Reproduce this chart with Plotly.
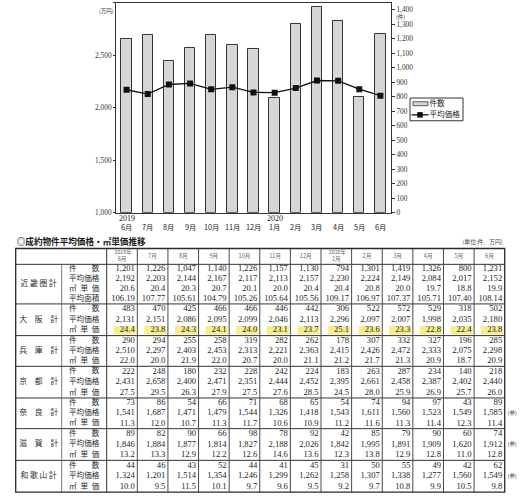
import plotly.graph_objects as go

# ---------------- data ----------------
chart_months = ["6月", "7月", "8月", "9月", "10月", "11月", "12月", "1月", "2月", "3月", "4月", "5月", "6月"]
chart_years = {0: "2019", 7: "2020"}
chart_counts = [1201, 1226, 1047, 1140, 1226, 1157, 1130, 794, 1301, 1419, 1326, 800, 1231]
chart_avg_price = [2173, 2132, 2223, 2233, 2177, 2198, 2148, 2145, 2189, 2261, 2258, 2179, 2116]
legend_names = ["件数", "平均価格"]

table_title = "◎成約物件平均価格・㎡単価推移"
table_unit = "(単位:件、万円)"
header_months = ["6月", "7月", "8月", "9月", "10月", "11月", "12月", "1月", "2月", "3月", "4月", "5月", "6月"]
header_years = {0: "2019年", 7: "2020年"}

row_label_count = "件\u3000\u3000数"
row_label_price = "平均価格"
row_label_unit = "㎡\u2002単\u2002価"
row_label_area = "平均面積"

kinki_name = "近 畿 圏 計"
kinki_count = ["1,201", "1,226", "1,047", "1,140", "1,226", "1,157", "1,130", "794", "1,301", "1,419", "1,326", "800", "1,231"]
kinki_price = ["2,192", "2,203", "2,144", "2,167", "2,117", "2,113", "2,157", "2,230", "2,224", "2,149", "2,084", "2,017", "2,152"]
kinki_unit = ["20.6", "20.4", "20.3", "20.7", "20.1", "20.0", "20.4", "20.4", "20.8", "20.0", "19.7", "18.8", "19.9"]
kinki_area = ["106.19", "107.77", "105.61", "104.79", "105.26", "105.64", "105.56", "109.17", "106.97", "107.37", "105.71", "107.40", "108.14"]

osaka_name = "大\u3000阪\u3000計"
osaka_count = ["483", "470", "425", "466", "466", "446", "442", "306", "522", "572", "529", "318", "502"]
osaka_price = ["2,131", "2,151", "2,086", "2,095", "2,099", "2,046", "2,113", "2,296", "2,097", "2,007", "1,998", "2,035", "2,180"]
osaka_unit = ["24.4", "23.8", "24.3", "24.1", "24.0", "23.1", "23.7", "25.1", "23.6", "23.3", "22.8", "22.4", "23.8"]

hyogo_name = "兵\u3000庫\u3000計"
hyogo_count = ["290", "294", "255", "258", "319", "282", "262", "178", "307", "332", "327", "196", "285"]
hyogo_price = ["2,510", "2,297", "2,403", "2,453", "2,313", "2,221", "2,363", "2,415", "2,426", "2,472", "2,333", "2,075", "2,298"]
hyogo_unit = ["22.0", "20.0", "21.9", "22.0", "20.7", "20.0", "21.1", "21.2", "21.7", "21.3", "20.9", "18.7", "20.9"]

kyoto_name = "京\u3000都\u3000計"
kyoto_count = ["222", "248", "180", "232", "228", "242", "224", "183", "263", "287", "234", "140", "218"]
kyoto_price = ["2,431", "2,658", "2,400", "2,471", "2,351", "2,444", "2,452", "2,395", "2,661", "2,458", "2,387", "2,402", "2,440"]
kyoto_unit = ["27.5", "29.5", "26.3", "27.9", "27.5", "27.6", "28.5", "24.5", "28.0", "25.9", "26.9", "25.7", "26.0"]

nara_name = "奈\u3000良\u3000計"
nara_count = ["73", "86", "54", "66", "71", "68", "65", "54", "74", "94", "97", "43", "89"]
nara_price = ["1,541", "1,687", "1,471", "1,479", "1,544", "1,326", "1,418", "1,543", "1,611", "1,560", "1,523", "1,549", "1,585"]
nara_unit = ["11.3", "12.0", "10.7", "11.3", "11.7", "10.6", "10.9", "11.2", "11.6", "11.3", "11.4", "12.3", "11.4"]

shiga_name = "滋\u3000賀\u3000計"
shiga_count = ["89", "82", "90", "66", "98", "78", "92", "42", "85", "79", "90", "60", "74"]
shiga_price = ["1,846", "1,884", "1,877", "1,814", "1,827", "2,188", "2,026", "1,842", "1,995", "1,891", "1,909", "1,620", "1,912"]
shiga_unit = ["13.2", "13.3", "12.9", "12.2", "12.6", "14.6", "13.6", "12.3", "13.8", "12.9", "12.8", "11.0", "12.8"]

wakayama_name = "和 歌 山 計"
wakayama_count = ["44", "46", "43", "52", "44", "41", "45", "31", "50", "55", "49", "42", "62"]
wakayama_price = ["1,324", "1,201", "1,514", "1,354", "1,246", "1,299", "1,262", "1,258", "1,307", "1,338", "1,277", "1,560", "1,549"]
wakayama_unit = ["10.0", "9.5", "11.5", "10.1", "9.7", "9.6", "9.5", "9.2", "9.7", "10.8", "9.9", "10.5", "9.8"]

ref_mark = "(参)"
ref_regions = {"nara", "shiga", "wakayama"}

# ---------------- styles / layout constants ----------------
W, H = 524, 500
SERIF = "Liberation Serif, Noto Sans CJK JP, serif"
CJK = "Noto Sans CJK JP, sans-serif"
LINEC = "#333333"
BAR_FILL = "#d6d6d6"
BAR_LINE = "#333333"
LINE_C = "#111111"

fig = go.Figure()

# ---------------- chart ----------------
xs = list(range(len(chart_months)))
fig.add_trace(go.Bar(
    x=xs, y=chart_counts, name=legend_names[0], xaxis="x", yaxis="y",
    width=0.49, marker=dict(color=BAR_FILL, line=dict(color=BAR_LINE, width=1)),
    showlegend=False,
))
fig.add_trace(go.Scatter(
    x=xs, y=chart_avg_price, name=legend_names[1], xaxis="x", yaxis="y2",
    mode="lines+markers", line=dict(color=LINE_C, width=1.3),
    marker=dict(symbol="square", size=6, color=LINE_C), showlegend=False,
))

# month labels and year labels under the chart
for i, m in zip(xs, chart_months):
    fig.add_annotation(x=i, y=1 - 229.5 / H, xref="x", yref="paper", text=m,
                       showarrow=False, font=dict(family=CJK, size=7.3, color="#222"),
                       xanchor="center", yanchor="middle")
for i, yr in chart_years.items():
    fig.add_annotation(x=i, y=1 - 220.5 / H, xref="x", yref="paper", text=yr,
                       showarrow=False, font=dict(family=SERIF, size=8, color="#222"),
                       xanchor="center", yanchor="middle")

fig.add_annotation(x=106 / W, y=1 - 11 / H, xref="paper", yref="paper", text="(万円)",
                   showarrow=False, font=dict(family=CJK, size=5.5, color="#333"),
                   xanchor="center", yanchor="middle")
fig.add_annotation(x=400 / W, y=1 - 17 / H, xref="paper", yref="paper", text="(件)",
                   showarrow=False, font=dict(family=CJK, size=5.5, color="#333"),
                   xanchor="center", yanchor="middle")

shapes = []

# ---------------- custom legend (pixel coordinates) ----------------
LG_L, LG_T, LG_R, LG_B = 410, 99, 463, 122
shapes.append(dict(type="rect", xref="x2", yref="y3", x0=LG_L, x1=LG_R, y0=LG_T, y1=LG_B,
                   layer="below", fillcolor="white", line=dict(color="#333", width=1)))
shapes.append(dict(type="rect", xref="x2", yref="y3", x0=LG_L + 3, x1=LG_L + 18, y0=102.8, y1=106.8,
                   fillcolor=BAR_FILL, line=dict(color=BAR_LINE, width=0.8)))
fig.add_trace(go.Scatter(x=[LG_L + 1.5, LG_L + 18.5], y=[116, 116], mode="lines",
                         line=dict(color=LINE_C, width=1.3), xaxis="x2", yaxis="y3",
                         showlegend=False, hoverinfo="skip", cliponaxis=False))
fig.add_trace(go.Scatter(x=[LG_L + 10], y=[116], mode="markers",
                         marker=dict(symbol="square", size=5.5, color=LINE_C), xaxis="x2", yaxis="y3",
                         showlegend=False, hoverinfo="skip", cliponaxis=False))
fig.add_trace(go.Scatter(x=[LG_L + 19.5, LG_L + 19.5], y=[104.8, 116], text=legend_names, mode="text",
                         textposition="middle right", textfont=dict(family=CJK, size=7.6, color="#222"),
                         xaxis="x2", yaxis="y3", showlegend=False, hoverinfo="skip", cliponaxis=False))

# ---------------- table (pixel coordinate axes) ----------------
TL, TR = 15.7, 504.7
C_REG, C_LAB = 61.7, 106.7
NCOL = len(header_months)
colw = (TR - C_LAB) / NCOL
HEAD_T, HEAD_B = 251, 267

blocks = [
    ("kinki", kinki_name, [(row_label_count, kinki_count), (row_label_price, kinki_price),
                           (row_label_unit, kinki_unit), (row_label_area, kinki_area)]),
    ("osaka", osaka_name, [(row_label_count, osaka_count), (row_label_price, osaka_price),
                           (row_label_unit, osaka_unit)]),
    ("hyogo", hyogo_name, [(row_label_count, hyogo_count), (row_label_price, hyogo_price),
                           (row_label_unit, hyogo_unit)]),
    ("kyoto", kyoto_name, [(row_label_count, kyoto_count), (row_label_price, kyoto_price),
                           (row_label_unit, kyoto_unit)]),
    ("nara", nara_name, [(row_label_count, nara_count), (row_label_price, nara_price),
                         (row_label_unit, nara_unit)]),
    ("shiga", shiga_name, [(row_label_count, shiga_count), (row_label_price, shiga_price),
                           (row_label_unit, shiga_unit)]),
    ("wakayama", wakayama_name, [(row_label_count, wakayama_count), (row_label_price, wakayama_price),
                                 (row_label_unit, wakayama_unit)]),
]
block_bounds = [267, 307, 339, 370, 402, 433, 465, 497]


def hline(y, x0=TL, x1=TR, w=1.0, c=LINEC):
    shapes.append(dict(type="line", xref="x2", yref="y3", x0=x0, x1=x1, y0=y, y1=y,
                       line=dict(color=c, width=w)))


def vline(x, y0, y1, w=1.0, c=LINEC):
    shapes.append(dict(type="line", xref="x2", yref="y3", x0=x, x1=x, y0=y0, y1=y1,
                       line=dict(color=c, width=w)))


num_x, num_y, num_t = [], [], []
lab_x, lab_y, lab_t = [], [], []
reg_x, reg_y, reg_t = [], [], []
ref_x, ref_y, ref_t = [], [], []

for bi, (key, name, rows) in enumerate(blocks):
    top, bot = block_bounds[bi], block_bounds[bi + 1]
    rh = (bot - top) / len(rows)
    reg_x.append((TL + C_REG) / 2)
    reg_y.append((top + bot) / 2)
    reg_t.append(name)
    for ri, (label, vals) in enumerate(rows):
        cy = top + rh * (ri + 0.5)
        lab_x.append((C_REG + C_LAB) / 2)
        lab_y.append(cy)
        lab_t.append(label)
        for ci, v in enumerate(vals):
            cr = C_LAB + colw * (ci + 1)
            num_x.append(cr - 2.5)
            num_y.append(cy)
            num_t.append(v)
            if key == "osaka" and label == row_label_unit:
                shapes.append(dict(type="rect", xref="x2", yref="y3", layer="below",
                                   x0=cr - colw + 7, x1=cr - 1.5, y0=cy - 4.3, y1=cy + 4.3,
                                   fillcolor="#f7ec8e", line=dict(width=0)))
        if key in ref_regions and label == row_label_price:
            ref_x.append(TR + 7.5)
            ref_y.append(cy)
            ref_t.append(ref_mark)
    if bi < len(blocks) - 1:
        hline(bot, w=1.0)

# header
hx, hy, ht = [], [], []
hyx, hyy, hyt = [], [], []
for ci, m in enumerate(header_months):
    cx = C_LAB + colw * (ci + 0.5)
    hx.append(cx)
    ht.append(m)
    if ci in header_years:
        hy.append(262.0)
        hyx.append(cx + 1)
        hyy.append(255.2)
        hyt.append(header_years[ci])
    else:
        hy.append((HEAD_T + HEAD_B) / 2)

# grid lines
hline(HEAD_B, w=1.0)
for ci in range(1, NCOL):
    vline(C_LAB + colw * ci, HEAD_T, block_bounds[-1], w=1.0, c="#4a4a4a")
vline(C_LAB, HEAD_T, block_bounds[-1], w=1.0)
vline(C_REG, HEAD_B, block_bounds[-1], w=0.8, c="#555555")
shapes.append(dict(type="rect", xref="x2", yref="y3", x0=TL, x1=TR, y0=HEAD_T, y1=block_bounds[-1],
                   line=dict(color="#2a2a2a", width=1.3)))


def text_trace(x, y, t, pos, font):
    return go.Scatter(x=x, y=y, text=t, mode="text", textposition=pos, textfont=font,
                      xaxis="x2", yaxis="y3", showlegend=False, hoverinfo="skip", cliponaxis=False)


fig.add_trace(text_trace(num_x, num_y, num_t, "middle left", dict(family=SERIF, size=8.6, color="#1e1e1e")))
fig.add_trace(text_trace(lab_x, lab_y, lab_t, "middle center", dict(family=CJK, size=7.6, color="#2a2a2a")))
fig.add_trace(text_trace(reg_x, reg_y, reg_t, "middle center", dict(family=CJK, size=7.8, color="#2a2a2a")))
fig.add_trace(text_trace(hx, hy, ht, "middle center", dict(family=CJK, size=5.6, color="#666666")))
fig.add_trace(text_trace(hyx, hyy, hyt, "middle center", dict(family=CJK, size=5.3, color="#666666")))
fig.add_trace(text_trace(ref_x, ref_y, ref_t, "middle center", dict(family=CJK, size=5.5, color="#444444")))
fig.add_trace(text_trace([TL + 1], [245.0], [table_title], "middle right",
                         dict(family=CJK, size=8.6, color="#1a1a1a", weight="bold")))
fig.add_trace(text_trace([TR - 2], [245], [table_unit], "middle left",
                         dict(family=CJK, size=5.8, color="#444444")))

fig.update_layout(
    width=W, height=H,
    margin=dict(l=0, r=0, t=0, b=0),
    paper_bgcolor="white", plot_bgcolor="rgba(0,0,0,0)",
    bargap=0,
    shapes=shapes,
    showlegend=False,
    xaxis=dict(domain=[116 / W, 391 / W], range=[-0.5, 12.5], anchor="y",
               tickvals=xs, showticklabels=False, ticks="",
               showline=True, mirror=True, linecolor="#333", linewidth=1,
               showgrid=False, zeroline=False),
    yaxis=dict(domain=[1 - 215 / H, 1 - 3 / H], range=[0, 1448], side="right", anchor="x",
               dtick=100, tickformat=",", ticks="outside", ticklen=3, tickcolor="#333",
               showline=True, linecolor="#333", linewidth=1, showgrid=False, zeroline=False,
               tickfont=dict(family=SERIF, size=7.3, color="#333")),
    yaxis2=dict(overlaying="y", range=[1000, 3000], side="left", anchor="x",
                dtick=500, tickformat=",", ticks="outside", ticklen=2, tickcolor="#333",
                showline=True, linecolor="#333", linewidth=1, showgrid=False, zeroline=False,
                tickfont=dict(family=SERIF, size=7.3, color="#333")),
    xaxis2=dict(domain=[0, 1], range=[0, W], anchor="y3", visible=False, fixedrange=True),
    yaxis3=dict(domain=[0, 1], range=[H, 0], anchor="x2", visible=False, fixedrange=True),
)

fig.write_html("out.html", config={"displayModeBar": False},
               post_script="document.body.style.margin='0px';document.body.style.overflow='hidden';")
